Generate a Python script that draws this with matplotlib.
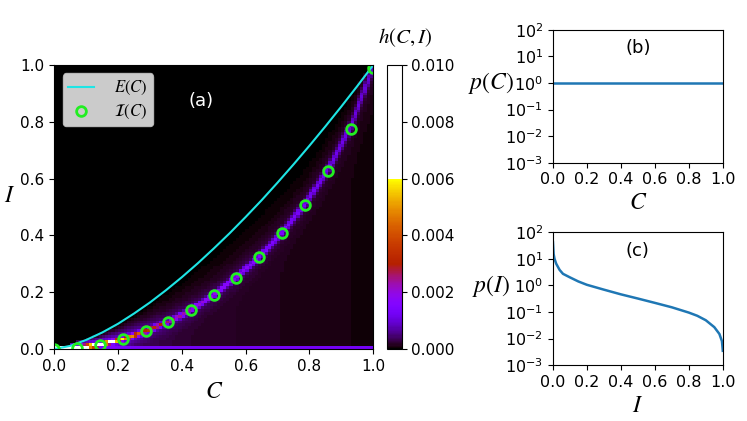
import numpy as np
import matplotlib
matplotlib.use("Agg")
import matplotlib.pyplot as plt
from matplotlib.colors import ListedColormap

plt.rcParams["mathtext.fontset"] = "stix"

# E(C) curve
E_C = [0.0, 0.05, 0.1, 0.15, 0.2, 0.25, 0.3, 0.35, 0.4, 0.45, 0.5,
       0.55, 0.6, 0.65, 0.7, 0.75, 0.8, 0.85, 0.9, 0.95, 1.0]
E_val = [0.0, 0.011, 0.032, 0.058, 0.089, 0.125, 0.164, 0.207, 0.253, 0.302, 0.354,
         0.408, 0.465, 0.524, 0.586, 0.650, 0.716, 0.784, 0.854, 0.926, 1.0]

# I(C) markers
I_C = [0.0, 0.071, 0.143, 0.214, 0.286, 0.357, 0.429, 0.5,
       0.571, 0.643, 0.714, 0.786, 0.857, 0.929, 1.0]
I_val = [0.0, 0.005, 0.014, 0.034, 0.062, 0.094, 0.137, 0.189,
         0.251, 0.323, 0.407, 0.507, 0.627, 0.776, 0.99]

# h(C, I): ridge height / width along I(C), level below ridge, bottom row
ridge_peak = [0.010, 0.010, 0.008, 0.005, 0.003, 0.0022, 0.0018, 0.0016,
              0.0015, 0.0013, 0.0012, 0.0011, 0.0010, 0.0009, 0.0008]
ridge_width = [0.003, 0.003, 0.004, 0.005, 0.006, 0.006, 0.007, 0.007,
               0.008, 0.009, 0.010, 0.011, 0.013, 0.015, 0.018]
floor_level = [0.0015, 0.0008, 0.0005, 0.0004, 0.0003, 0.00025, 0.0002, 0.00018,
               0.00016, 0.00014, 0.00012, 0.0001, 0.00009, 0.00008, 0.00007]
bottom_row = [0.010, 0.010, 0.0016, 0.0014, 0.0013, 0.0013, 0.0013, 0.0013,
              0.0013, 0.0013, 0.0013, 0.0013, 0.0013, 0.0013, 0.0013]

# marginals
pC_x = [0.0, 1.0]
pC_y = [1.0, 1.0]
pI_x = [0.001, 0.005, 0.01, 0.02, 0.04, 0.06, 0.1, 0.15, 0.2, 0.3, 0.4,
        0.5, 0.6, 0.7, 0.8, 0.85, 0.9, 0.95, 0.98, 0.995, 1.0]
pI_y = [42, 15, 10, 6.5, 3.8, 2.7, 2.0, 1.4, 1.05, 0.69, 0.46,
        0.32, 0.22, 0.15, 0.095, 0.072, 0.049, 0.027, 0.015, 0.008, 0.0035]

# build the histogram grid
nb = 100
cc = (np.arange(nb) + 0.5) / nb
ii = (np.arange(nb) + 0.5) / nb
CC, II = np.meshgrid(cc, ii)
r = np.interp(CC, I_C, I_val)
pk = np.interp(CC, I_C, ridge_peak)
w = np.interp(CC, I_C, ridge_width)
fl = np.interp(CC, I_C, floor_level)
e = np.interp(CC, E_C, E_val)
core = pk * np.exp(-0.5 * ((II - r) / w) ** 2)
halo = 0.12 * pk * np.exp(-0.5 * ((II - r) / (4 * w)) ** 2)
below = np.where(II <= r, fl, fl * np.clip((e - II) / np.maximum(e - r, 1e-6), 0, 1))
h = (core + halo + below) * (II <= e + 0.005)
h[0, :] = np.interp(cc, I_C, bottom_row)

base = plt.get_cmap("gnuplot")(np.linspace(0, 1, 150))
white = np.ones((100, 4))
cmap = ListedColormap(np.vstack([base, white]))

fig = plt.figure(figsize=(7.47, 4.21), dpi=100)
ax = fig.add_axes([0.0727, 0.171, 0.427, 0.6746])
cax = fig.add_axes([0.518, 0.171, 0.0197, 0.6746])
axb = fig.add_axes([0.740, 0.6135, 0.2276, 0.316])
axc = fig.add_axes([0.740, 0.1323, 0.2276, 0.3166])

im = ax.imshow(h, extent=[0, 1, 0, 1], origin="lower", aspect="auto",
               interpolation="nearest", cmap=cmap, vmin=0, vmax=0.01)
ax.plot(E_C, E_val, color="#1ee5e5", lw=1.5, label=r"$E(C)$")
ax.plot(I_C, I_val, "o", mfc="none", mec="#22ee22", mew=2, ms=7,
        label=r"$\mathcal{I}(C)$")
ax.set_xlim(0, 1)
ax.set_ylim(0, 1)
ax.tick_params(labelsize=11)
ax.set_xlabel(r"$C$", fontsize=17)
ax.set_ylabel(r"$I$", fontsize=17, rotation=0, labelpad=8)
ax.text(0.46, 0.875, "(a)", color="white", fontsize=13, ha="center", va="center",
        transform=ax.transAxes)
ax.legend(loc="upper left", fontsize=12, handlelength=1.6, borderpad=0.3,
          labelspacing=0.3, handletextpad=1.2)

cb = fig.colorbar(im, cax=cax)
cb.set_ticks([0, 0.002, 0.004, 0.006, 0.008, 0.010])
cb.ax.tick_params(labelsize=11)
fig.text(405 / 747, 1 - 38 / 421, r"$h(C,I)$", fontsize=15, ha="center", va="center")

for a, xs, ys, lab, xl in [(axb, pC_x, pC_y, "(b)", r"$C$"),
                           (axc, pI_x, pI_y, "(c)", r"$I$")]:
    a.plot(xs, ys, color="#1f77b4", lw=1.8)
    a.set_yscale("log")
    a.set_ylim(1e-3, 1e2)
    a.set_yticks([1e-3, 1e-2, 1e-1, 1e0, 1e1, 1e2])
    a.set_xlim(0, 1)
    a.set_xticks([0, 0.2, 0.4, 0.6, 0.8, 1.0])
    a.tick_params(labelsize=11.5)
    a.text(0.5, 0.86, lab, fontsize=13, ha="center", va="center", transform=a.transAxes)
    a.set_xlabel(xl, fontsize=17, labelpad=2)

axb.set_ylabel(r"$p(C)$", fontsize=17, rotation=0, labelpad=10)
axc.set_ylabel(r"$p(I)$", fontsize=17, rotation=0, labelpad=10)

fig.savefig("out.png", dpi=100)
